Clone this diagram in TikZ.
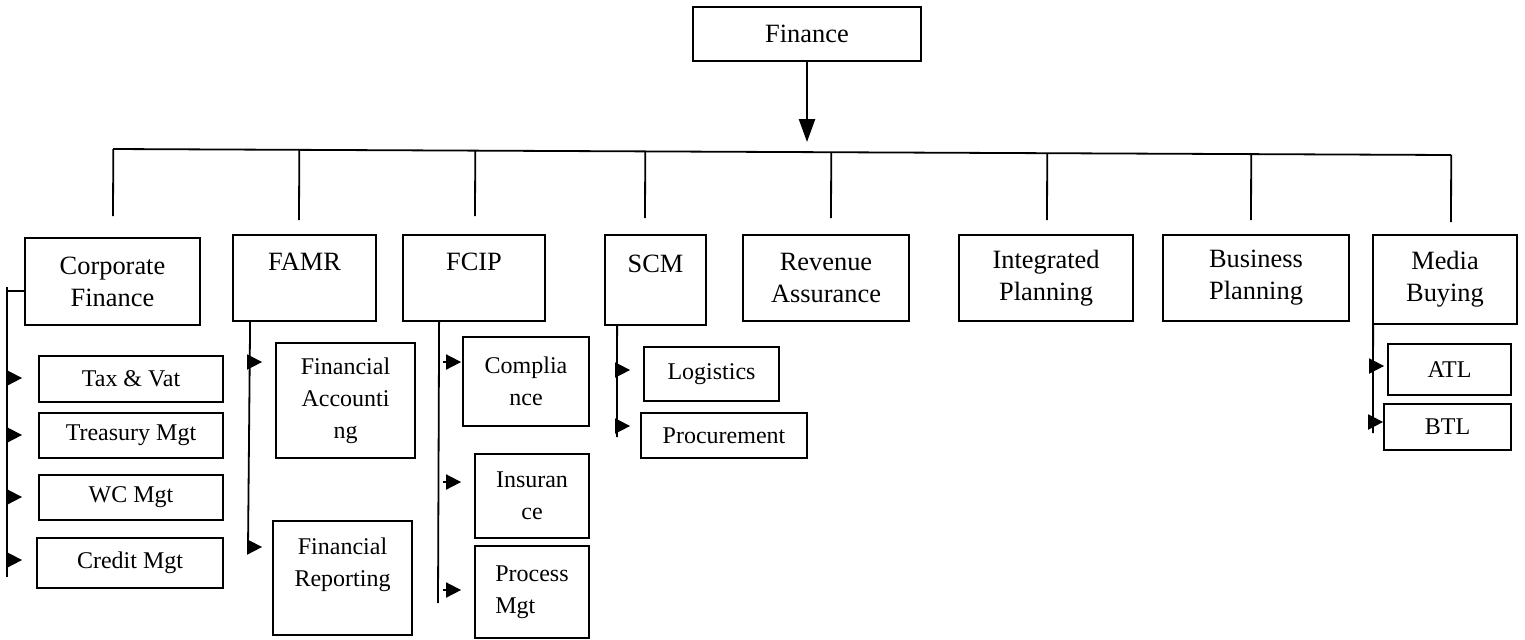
\documentclass[tikz,border=0pt]{standalone}
\usepackage{fontspec}
\setmainfont{Liberation Serif}
\usetikzlibrary{arrows.meta, calc}

\begin{document}
\begin{tikzpicture}[
                x = 0.5pt, y = -0.5pt, % one unit per pixel, y going down
                > = {Triangle[length = 7.5pt, width = 7.5pt]}, % arrow head style
                line width = 0.9pt, % line style
                font = \fontsize{12}{16}\selectfont
            ]

            \tikzset{box/.style = {draw = black, rectangle, align = center,
            inner sep = 0pt},
            dept/.style = {box, font = \fontsize{13.2}{16}\selectfont},
            boxsize/.style 2 args = {minimum width = #1*0.5pt,
            minimum height = #2*0.5pt}}

            \useasboundingbox (0,0) rectangle (1525,639);

            % head of the chart
            \node (fin) [dept, boxsize = {228}{54}] at (807,34) {Finance};

            % departments
            \node (cf) [dept, boxsize = {175}{87}] at (112.5,281.5)
            {Corporate\\Finance}; \node (famr) [dept, boxsize = {143}{86}] at
            (304.5,278) {FAMR\\~}; \node (fcip) [dept, boxsize = {142}{86}] at
            (474,278) {FCIP\\~}; \node (scm) [dept, boxsize = {101}{90}] at
            (655.5,280) {SCM\\~}; \node (rev) [dept, boxsize = {166}{86}] at
            (826,278) {Revenue\\Assurance}; \node (intp) [dept, boxsize =
            {174}{86}] at (1046,278) {Integrated\\Planning}; \node (busp)
            [dept, boxsize = {186}{86}] at (1256,278) {Business\\Planning};
            \node (media) [dept, boxsize = {144}{89}] at (1445,279.5)
            {Media\\Buying};

            % sections
            \node (tax) [box, boxsize = {184}{46}] at (131,379) {Tax \& Vat};
            \node (treas) [box, boxsize = {184}{45}] at (131,435.5) {Treasury
            Mgt}; \node (wc) [box, boxsize = {184}{45}] at (131,497.5) {WC
            Mgt}; \node (credit) [box, boxsize = {186}{50}] at (130,563)
            {Credit Mgt};

            \node (facc) [box, boxsize = {139}{115}] at (345.5,400.5)
            {Financial\\Accounti\\ng}; \node (frep) [box, boxsize = {139}{114}]
            at (342.5,578) {Financial\\Reporting\\~};

            \node (comp) [box, boxsize = {126}{89}] at (526,381.5)
            {Complia\\nce}; \node (insu) [box, boxsize = {114}{84}] at
            (532,496) {Insuran\\ce}; \node (proc) [box, align = left, boxsize =
            {114}{92}] at (532,592) {Process\\Mgt};

            \node (logi) [box, boxsize = {135}{54}] at (711.5,374) {Logistics};
            \node (procu) [box, boxsize = {166}{45}] at (724,435.5)
            {Procurement};

            \node (atl) [box, boxsize = {123}{51}] at (1449.5,369.5) {ATL};
            \node (btl) [box, boxsize = {127}{46}] at (1447.5,427) {BTL};

            % arrow down to the bus line
            \coordinate (fintip) at (807,142);
            \draw[->, > = {Triangle[length = 11.5pt, width = 8pt]},
            line width = 1.2pt] (fin) -- (fintip);

            % bus line and drops
            \coordinate (busl) at (113,149); \coordinate (busr) at (1451,155);
            \draw (busl) -- (busr);
            \foreach \n/\dx/\gap in {cf/0.5/21, famr/-5.5/14, fcip/1/18,
            scm/-10.5/16, rev/5/16, intp/1/14, busp/-5/14, media/6/12}{
                \coordinate (drop) at ([shift = {(\dx,-\gap)}]\n.north);
                \draw ($(busl)!(drop)!(busr)$) -- (drop);
            }

            % branch lines
            \coordinate (cfline) at (7,287); \coordinate (cfbot) at (7,577);
            \draw (cfline) -- (cfbot); \draw (cfline |- 0,291) -- (cf.west |-
            0,291);
            \coordinate (famrline) at (248,548);
            \draw ([xshift = 9pt]famr.south west) -- (famrline);
            \coordinate (fcipline) at (438,603);
            \draw ([xshift = 18.5pt]fcip.south west) -- (fcipline);
            \coordinate (scmline) at (617,437);
            \draw ([xshift = 6.5pt]scm.south west) -- (scmline);
            \coordinate (medialine) at (1373,433);
            \draw ([xshift = 0.5pt]media.south west) -- (medialine);

            % arrows to the sections
            \foreach \l/\c/\y/\g in {cfline/tax/378/8pt, cfline/treas/435/8pt,
            cfline/wc/497/8pt, cfline/credit/560/7pt, famrline/facc/362/6.5pt,
            famrline/frep/547/5pt, scmline/logi/370/6.5pt,
            scmline/procu/426/5pt, medialine/atl/366/1.5pt,
            medialine/btl/422/0pt}
                \draw[->, shorten >= \g] (\l |- 0,\y) -- (\c.west |- 0,\y);
            \foreach \c/\y/\g in {comp/362/0.5pt, insu/482/6.5pt,
            proc/590/6.5pt}
                \draw[->, shorten <= 2.5pt, shorten >= \g] (fcipline |- 0,\y)
                -- (\c.west |- 0,\y);

        \end{tikzpicture}
\end{document}
